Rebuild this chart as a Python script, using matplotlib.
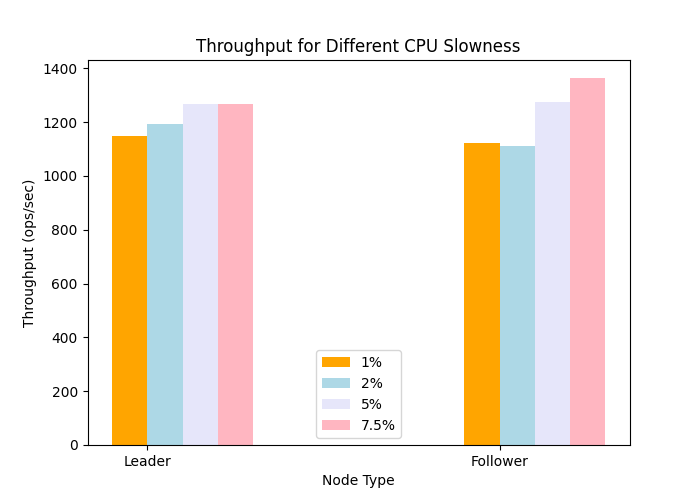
import matplotlib
matplotlib.use("Agg")
import matplotlib.pyplot as plt
import numpy as np

nodes = ["Leader", "Follower"]
slowness = ["1%", "2%", "5%", "7.5%"]
tput_1 = [1148, 1121]
tput_2 = [1192, 1110]
tput_5 = [1266, 1274]
tput_75 = [1266, 1363]
colors = ["orange", "lightblue", "lavender", "lightpink"]

x = np.arange(len(nodes))
w = 0.1

fig, ax = plt.subplots(figsize=(7, 5), dpi=100)
for i, (vals, lab) in enumerate(zip([tput_1, tput_2, tput_5, tput_75], slowness)):
    ax.bar(x + i * w, vals, w, label=lab, color=colors[i])

ax.set_xticks(x + w / 2)
ax.set_xticklabels(nodes)
ax.set_xlabel("Node Type")
ax.set_ylabel("Throughput (ops/sec)")
ax.set_title("Throughput for Different CPU Slowness")
ax.legend(loc="lower center")

plt.savefig("out.png")
